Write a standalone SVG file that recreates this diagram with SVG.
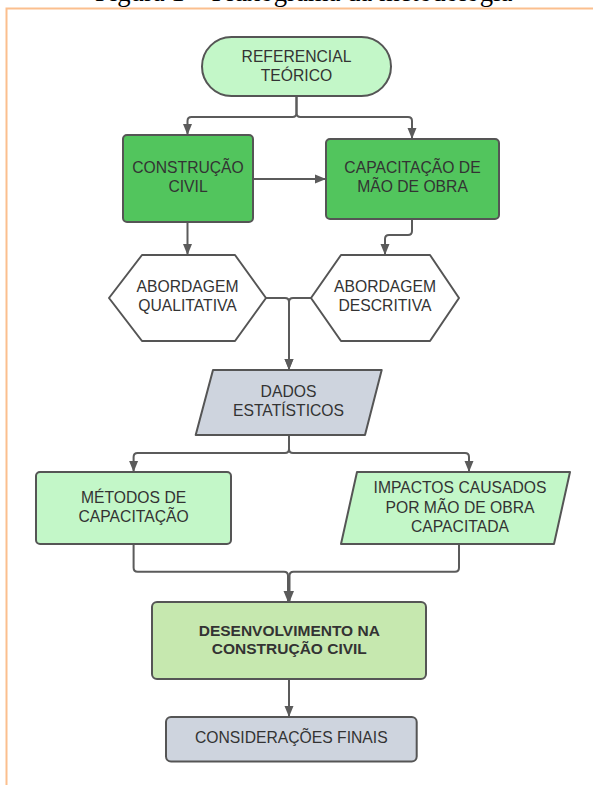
<svg xmlns="http://www.w3.org/2000/svg" width="593" height="785" viewBox="0 0 593 785">
<defs>
<style>
.node{stroke:#555555;stroke-width:2;stroke-linejoin:round}
.lg{fill:#C3F7C8}
.dg{fill:#52C55D}
.gr{fill:#CED4DE}
.yg{fill:#C6E8AF}
.wh{fill:#FFFFFF}
.t{font-family:"Liberation Sans",Arial,sans-serif;font-size:15.7px;fill:#333333;text-anchor:middle}
.b{font-weight:bold;font-size:15.5px}
.c{fill:none;stroke:#5B5B5B;stroke-width:2}
.cap{font-family:"Liberation Serif","Times New Roman",serif;font-size:26.7px;fill:#000}
</style>
<marker id="arr" markerUnits="userSpaceOnUse" markerWidth="12" markerHeight="10" refX="11" refY="5" orient="auto">
<path d="M0,0.5 L11,5 L0,9.5 z" fill="#5B5B5B"/>
</marker>
</defs>
<rect width="593" height="785" fill="#FFFFFF"/>
<text class="cap" x="95" y="1">Figura 1 – Fluxograma da metodologia</text>
<path d="M6.5,785 V8.5 H593" fill="none" stroke="#FBBF8E" stroke-width="2"/>

<g id="connectors">
<path class="c" d="M296.5,96 V113 Q296.5,117 292.5,117 H191.5 Q187.5,117 187.5,121 V135" marker-end="url(#arr)"/>
<path class="c" d="M296.5,96 V113 Q296.5,117 300.5,117 H408 Q412,117 412,121 V139" marker-end="url(#arr)"/>
<path class="c" d="M253,179 H326" marker-end="url(#arr)"/>
<path class="c" d="M187.5,222 V255" marker-end="url(#arr)"/>
<path class="c" d="M412,219 V231 Q412,235 408,235 H389 Q385,235 385,239 V255" marker-end="url(#arr)"/>
<path class="c" d="M266,298 H285 Q289,298 289,302 V370" marker-end="url(#arr)"/>
<path class="c" d="M311,298 H293 Q289,298 289,302 V370" marker-end="url(#arr)"/>
<path class="c" d="M289,435 V449 Q289,453 285,453 H137.6 Q133.6,453 133.6,457 V472" marker-end="url(#arr)"/>
<path class="c" d="M289,435 V449 Q289,453 293,453 H465 Q469,453 469,457 V472" marker-end="url(#arr)"/>
<path class="c" d="M133.6,544 V567.7 Q133.6,571.7 137.6,571.7 H284 Q288,571.7 288,575.7 V602" marker-end="url(#arr)"/>
<path class="c" d="M459,544 V567.7 Q459,571.7 455,571.7 H293.5 Q289.5,571.7 289.5,575.7 V602" marker-end="url(#arr)"/>
<path class="c" d="M289,679 V717" marker-end="url(#arr)"/>
</g>

<g id="referencial">
<rect class="node lg" x="202" y="37" width="189" height="59" rx="29.5"/>
<text class="t" x="296.5" y="62">REFERENCIAL</text>
<text class="t" x="296.5" y="81">TEÓRICO</text>
</g>

<g id="construcao">
<rect class="node dg" x="123" y="135" width="130" height="87" rx="4"/>
<text class="t" x="188" y="172.5">CONSTRUÇÃO</text>
<text class="t" x="188" y="191.5">CIVIL</text>
</g>

<g id="capacitacao">
<rect class="node dg" x="326" y="139" width="173" height="80" rx="4"/>
<text class="t" x="412.5" y="173">CAPACITAÇÃO DE</text>
<text class="t" x="412.5" y="192">MÃO DE OBRA</text>
</g>

<g id="qualitativa">
<polygon class="node wh" points="109,298 142,255 235,255 266,298 235,341 142,341"/>
<text class="t" x="187.5" y="291.7">ABORDAGEM</text>
<text class="t" x="187.5" y="311">QUALITATIVA</text>
</g>

<g id="descritiva">
<polygon class="node wh" points="311,298 341,255 430,255 459,298 430,341 341,341"/>
<text class="t" x="385" y="291.7">ABORDAGEM</text>
<text class="t" x="385" y="311">DESCRITIVA</text>
</g>

<g id="dados">
<polygon class="node gr" points="213,370 381.7,370 365,435 195.7,435"/>
<text class="t" x="288.5" y="396.7">DADOS</text>
<text class="t" x="288.5" y="416">ESTATÍSTICOS</text>
</g>

<g id="metodos">
<rect class="node lg" x="36" y="472" width="195" height="72" rx="4"/>
<text class="t" x="133.6" y="503">MÉTODOS DE</text>
<text class="t" x="133.6" y="522">CAPACITAÇÃO</text>
</g>

<g id="impactos">
<polygon class="node lg" points="357,472 570,472 554,544 341,544"/>
<text class="t" x="460" y="493.3">IMPACTOS CAUSADOS</text>
<text class="t" x="460" y="512.7">POR MÃO DE OBRA</text>
<text class="t" x="460" y="531.5">CAPACITADA</text>
</g>

<g id="desenvolvimento">
<rect class="node yg" x="152" y="602" width="274" height="77" rx="5"/>
<text class="t b" x="289.3" y="635.7">DESENVOLVIMENTO NA</text>
<text class="t b" x="289.3" y="654.3">CONSTRUÇÃO CIVIL</text>
</g>

<g id="consideracoes">
<rect class="node gr" x="166" y="717" width="250.7" height="44.4" rx="5"/>
<text class="t" x="291.3" y="743.3">CONSIDERAÇÕES FINAIS</text>
</g>
</svg>
